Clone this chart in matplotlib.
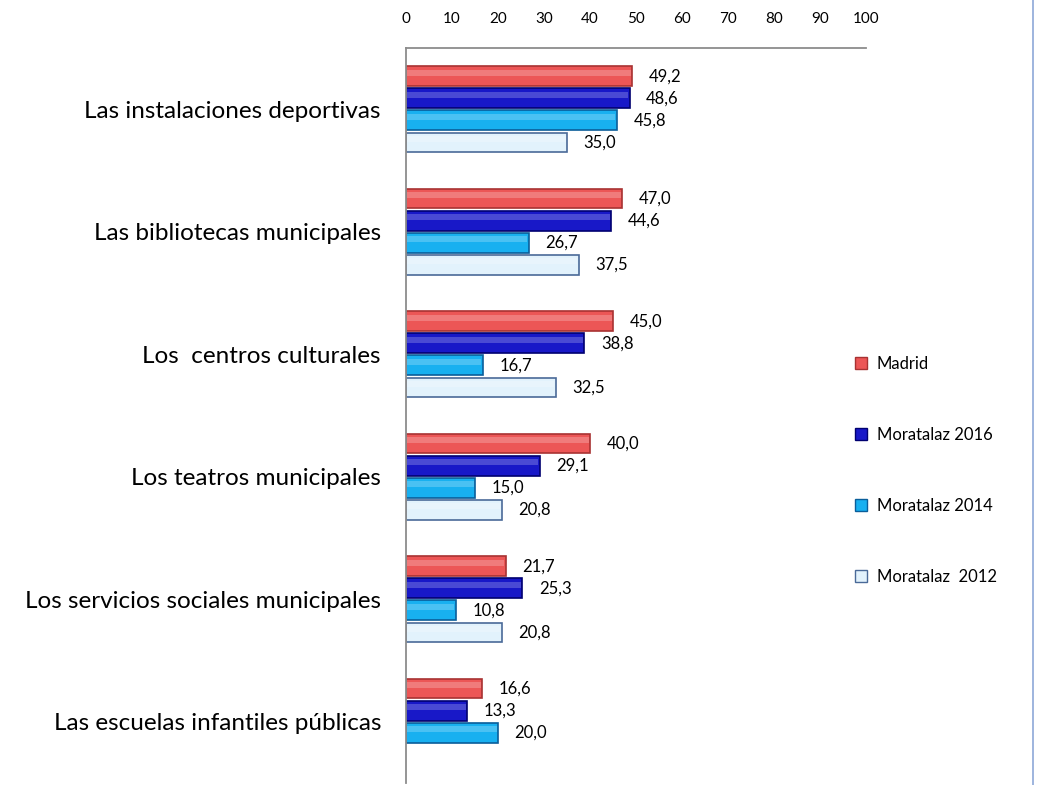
import numpy as np
import matplotlib.pyplot as plt
from matplotlib.lines import Line2D

plt.rcParams['font.family'] = ['Lato', 'DejaVu Sans']

categorias = ['Las instalaciones deportivas', 'Las bibliotecas municipales',
              'Los  centros culturales', 'Los teatros municipales',
              'Los servicios sociales municipales', 'Las escuelas infantiles públicas']
madrid = [49.2, 47.0, 45.0, 40.0, 21.7, 16.6]
mor_2016 = [48.6, 44.6, 38.8, 29.1, 25.3, 13.3]
mor_2014 = [45.8, 26.7, 16.7, 15.0, 10.8, 20.0]
mor_2012 = [35.0, 37.5, 32.5, 20.8, 20.8, np.nan]

series = [
    ('Madrid', madrid, '#EC5656', '#A83232'),
    ('Moratalaz 2016', mor_2016, '#1818C8', '#000070'),
    ('Moratalaz 2014', mor_2014, '#18B0F0', '#0A5E9A'),
    ('Moratalaz  2012', mor_2012, '#E2F2FC', '#4A6A98'),
]

fig = plt.figure(figsize=(10.38, 7.85), dpi=100)
ax = fig.add_axes([406 / 1038, 2 / 785, 460 / 1038, 735 / 785])

y = np.arange(len(categorias))
slot = 0.18
alto = 0.16
handles = []
for i, (nombre, vals, color, borde) in enumerate(series):
    offs = (i - 1.5) * slot
    vals = np.array(vals, dtype=float)
    ok = ~np.isnan(vals)
    ax.barh(y[ok] + offs, vals[ok], height=alto, color=color, edgecolor=borde, linewidth=1.2)
    # brillo superior
    ax.barh(y[ok] + offs - alto * 0.18, vals[ok] - 0.6, left=0.3, height=alto * 0.3,
            color='white', alpha=0.22, linewidth=0)
    for yy, v in zip(y[ok] + offs, vals[ok]):
        ax.annotate(f'{v:.1f}'.replace('.', ','), (v, yy), xytext=(12, 0),
                    textcoords='offset points', va='center', ha='left', fontsize=12)
    handles.append(plt.Rectangle((0, 0), 1, 1, facecolor=color, edgecolor=borde, linewidth=1, label=nombre))

ax.set_xlim(0, 100)
ax.set_ylim(len(categorias) - 0.5, -0.5)
ax.set_xticks(range(0, 101, 10))
ax.set_yticks(y)
ax.set_yticklabels(categorias, fontsize=17.5)
ax.xaxis.tick_top()
ax.tick_params(axis='x', length=0, pad=16, labelsize=11)
ax.tick_params(axis='y', length=0, pad=18)
for s in ['right', 'bottom']:
    ax.spines[s].set_visible(False)
for s in ['top', 'left']:
    ax.spines[s].set_color('#8C8C8C')
    ax.spines[s].set_linewidth(1.3)

fig.legend(handles=handles, loc='upper left', bbox_to_anchor=(840 / 1038, 1 - 341 / 785),
           frameon=False, fontsize=12, handlelength=0.7, handleheight=0.7,
           handletextpad=0.6, labelspacing=3.3)

fig.add_artist(Line2D([1033 / 1038, 1033 / 1038], [0, 1], color='#8EA8D8', linewidth=1.2))

plt.savefig('out.png', dpi=100, facecolor='white')
plt.close()
